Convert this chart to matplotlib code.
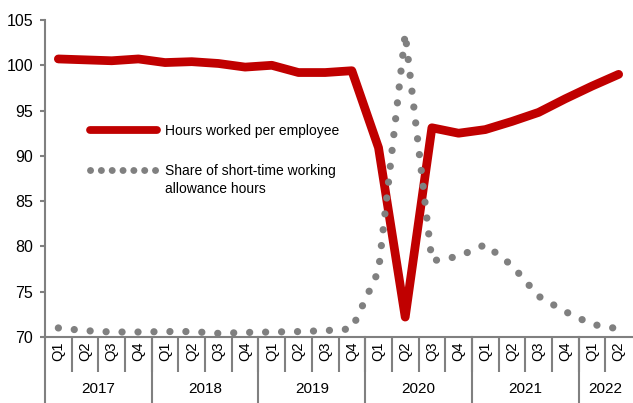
import matplotlib
matplotlib.use("Agg")
import matplotlib.pyplot as plt
from matplotlib.lines import Line2D
import numpy as np

plt.rcParams['font.family'] = ['Liberation Sans', 'DejaVu Sans']

quarters = ["Q1", "Q2", "Q3", "Q4"] * 5 + ["Q1", "Q2"]
years = ["2017", "2018", "2019", "2020", "2021", "2022"]
year_counts = [4, 4, 4, 4, 4, 2]

hours = [100.7, 100.6, 100.5, 100.7, 100.3, 100.4, 100.2, 99.8, 100.0, 99.2, 99.2,
         99.4, 90.9, 72.2, 93.1, 92.5, 92.9, 93.8, 94.8, 96.3, 97.7, 99.0]
short_time = [71.0, 70.7, 70.55, 70.55, 70.6, 70.6, 70.4, 70.5, 70.55, 70.6, 70.7,
              70.9, 77.3, 103.5, 78.4, 78.9, 80.2, 77.9, 74.5, 72.8, 71.4, 70.9]

red = "#C00000"
grey = "#808080"
W, H = 633, 403

fig = plt.figure(figsize=(W / 100, H / 100), dpi=100)
ax = fig.add_axes([45 / W, 66 / H, 587 / W, 317 / H])

x = np.arange(len(quarters))
ax.plot(x, hours, color=red, lw=6.3, solid_joinstyle="round",
        solid_capstyle="round", zorder=2)
ax.plot(x, short_time, color=grey, lw=5.2, linestyle=(0, (0.01, 2.2)),
        dash_capstyle="round", zorder=3)

ax.set_xlim(-0.5, len(quarters) - 0.5)
ax.set_ylim(70, 105)
ax.set_yticks(np.arange(70, 106, 5))

for s in ["top", "right"]:
    ax.spines[s].set_visible(False)
for s in ["left", "bottom"]:
    ax.spines[s].set_color(grey)
    ax.spines[s].set_linewidth(1.5)

ax.tick_params(axis="y", direction="out", length=3.6, width=1.5, color=grey,
               labelsize=11.5, pad=5)

# quarter separators as major ticks, labels as minor ticks
ax.set_xticks(np.arange(0.5, len(quarters) - 1, 1.0))
ax.set_xticklabels([])
ax.tick_params(axis="x", which="major", direction="out", length=25, width=1.5,
               color=grey)
ax.set_xticks(x, minor=True)
ax.set_xticklabels(quarters, minor=True, rotation=90, fontsize=10.5)
ax.tick_params(axis="x", which="minor", length=0, pad=3)

# year groups
trans = ax.get_xaxis_transform()
start = 0
bounds = [-0.5]
for yr, n in zip(years, year_counts):
    ax.text(start + (n - 1) / 2, -52 / 317, yr, transform=trans, ha="center",
            va="center", fontsize=11)
    start += n
    bounds.append(start - 0.5)
for b in bounds[:-1]:
    ax.plot([b, b], [0, -66 / 317], transform=trans, color=grey, lw=1.5,
            clip_on=False)

# legend
def fx(px):
    return px / W

def fy(py):
    return 1 - py / H

fig.add_artist(Line2D([fx(90), fx(157)], [fy(130), fy(130)], color=red, lw=5.6,
                      solid_capstyle="round"))
fig.text(fx(165), fy(131), "Hours worked per employee", fontsize=10, va="center")
fig.add_artist(Line2D([fx(90), fx(158)], [fy(170), fy(170)], color=grey, lw=5.0,
                      linestyle=(0, (0.01, 1.55)), dash_capstyle="round"))
fig.text(fx(165), fy(180), "Share of short-time working\nallowance hours",
         fontsize=10, va="center", linespacing=1.35)

fig.savefig("out.png", dpi=100)
